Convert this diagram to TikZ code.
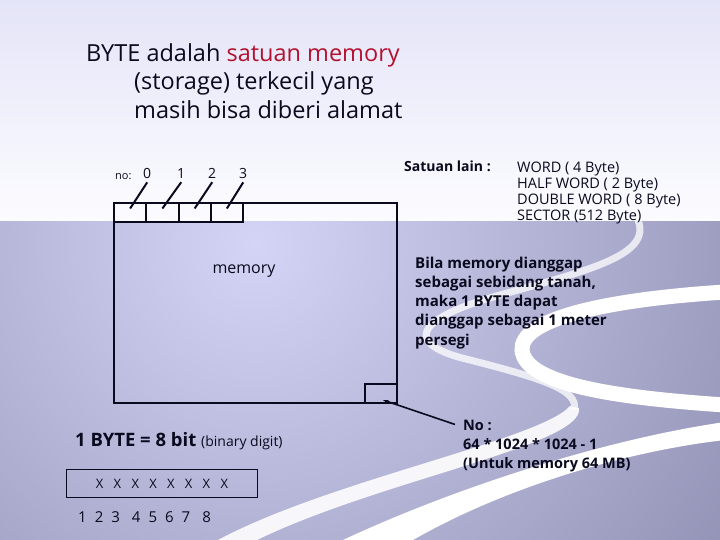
\documentclass[tikz,border=0pt]{standalone}
\usepackage{fontspec}
\setmainfont{Open Sans}
\usetikzlibrary{positioning,calc,arrows.meta}
\definecolor{ink}{HTML}{0A0A1E}
\definecolor{accent}{HTML}{B3122E}
\definecolor{sky}{HTML}{E4E4F8}
\definecolor{paper}{HTML}{FCFCFF}
\definecolor{panhi}{HTML}{D4D4F6}
\definecolor{panlo}{HTML}{8A8AAE}
\newcommand{\widesp}[1]{\spaceskip=#1\relax}
\tikzset{
  lbl/.style={anchor=base west, inner sep=0pt, text=ink},
  cell/.style={draw=ink, line width=2pt, minimum width=32.25pt, minimum height=19pt, inner sep=0pt},
  tick/.style={draw=ink, line width=2pt},
  band/.style={fill=white, draw=none},
  ribbon/.style={draw=white, line width=7pt, opacity=0.75}}
\begin{document}
\begin{tikzpicture}[x=1pt, y=-1pt]
\useasboundingbox (0,0) rectangle (720,540);
\fill[top color=sky, bottom color=paper] (0,0) rectangle (720,222);
\begin{scope}
\clip (0,222) rectangle (720,540);
\shade[inner color=panhi, outer color=panlo] (255,245) circle (640);
\draw[ribbon] (638,220) .. controls (652,255) and (590,270) .. (500,295) .. controls (410,320) and (405,345) .. (470,360) .. controls (540,378) and (580,390) .. (574,410);
\fill[band, opacity=0.9] (570,406) .. controls (540,440) and (330,480) .. (218,540) -- (257,540) .. controls (380,480) and (585,445) .. (579,408) -- cycle;
\draw[white, line width=15pt] (725,292) .. controls (600,300) and (520,320) .. (522,350) .. controls (525,385) and (620,398) .. (725,405);
\fill[band] (725,422) .. controls (600,440) and (450,490) .. (343,540) -- (413,540) .. controls (500,490) and (620,452) .. (725,440) -- cycle;
\end{scope}

\node[lbl, font=\fontsize{23.5}{28}\selectfont] (t1) at (86,62) {BYTE adalah \textcolor{accent}{satuan memory}};
\node[lbl, font=\fontsize{23.5}{28}\selectfont] (t2) at (134,90) {(storage) terkecil yang};
\node[lbl, font=\fontsize{23.5}{28}\selectfont] (t3) at (134,119) {masih bisa diberi alamat};

\node[draw=ink, line width=2pt, minimum width=283pt, minimum height=200pt, anchor=north west] (mem) at (113,202) {};
\node[font=\fontsize{16}{18}\selectfont, text=ink] (memlbl) at (244,271) {memory};
\node[cell, anchor=south east] (last) at (mem.south east) {};

\node[lbl, font=\fontsize{11}{13}\selectfont] (no) at (115,180) {no:};
\foreach \i/\x in {0/143,1/177,2/208,3/239} {
  \node[cell, anchor=north west] (c\i) at ({113+32.25*\i},202) {};
  \node[lbl, font=\fontsize{14}{16}\selectfont] (d\i) at (\x,179) {\i};
  \draw[tick] ($(d\i.south)+(0,3)$) -- ($(c\i.center)+(0,-4)$);
}

\node[lbl, font=\fontsize{14}{16}\selectfont\bfseries] (lain) at (404,172) {Satuan lain :};
\node[lbl, font=\fontsize{14.5}{16.3}\selectfont, align=left] (units) at (517,221) {WORD ( 4 Byte)\\HALF WORD ( 2 Byte)\\DOUBLE WORD ( 8 Byte)\\SECTOR (512 Byte)};

\node[lbl, font=\fontsize{15}{19.2}\selectfont\bfseries, align=left] (tanah) at (415,345) {Bila memory dianggap\\sebagai sebidang tanah,\\maka 1 BYTE dapat\\dianggap sebagai 1 meter\\persegi};

\node[lbl, font=\fontsize{14.5}{19}\selectfont\bfseries, align=left] (nomor) at (463,468) {No :\\64 * 1024 * 1024 - 1\\(Untuk memory 64 MB)};
\coordinate (tip) at ($(last.center)+(2,6.5)$);
\draw[ink, line width=1.6pt, -{Stealth[length=6pt, width=4pt]}] ([xshift=-8pt, yshift=-5pt]nomor.north west) -- (tip);

\node[lbl, font=\fontsize{18.5}{20}\selectfont] (bit) at (75,446) {\bfseries 1 BYTE = 8 bit \fontsize{14}{16}\mdseries\selectfont(binary digit)};
\node[draw=ink, line width=1pt, minimum width=191pt, minimum height=28pt, anchor=north west, inner sep=0pt,
  font=\fontsize{13}{16}\selectfont, text=ink] (bits) at (66,469) {\widesp{10.3pt}X X X X X X X X};
\node[lbl, font=\fontsize{15}{18}\selectfont] (pos) at (78,522) {\widesp{8pt}1 2 3\hspace{4pt} 4 5 6 7\hspace{4pt} 8};
\end{tikzpicture}
\end{document}
